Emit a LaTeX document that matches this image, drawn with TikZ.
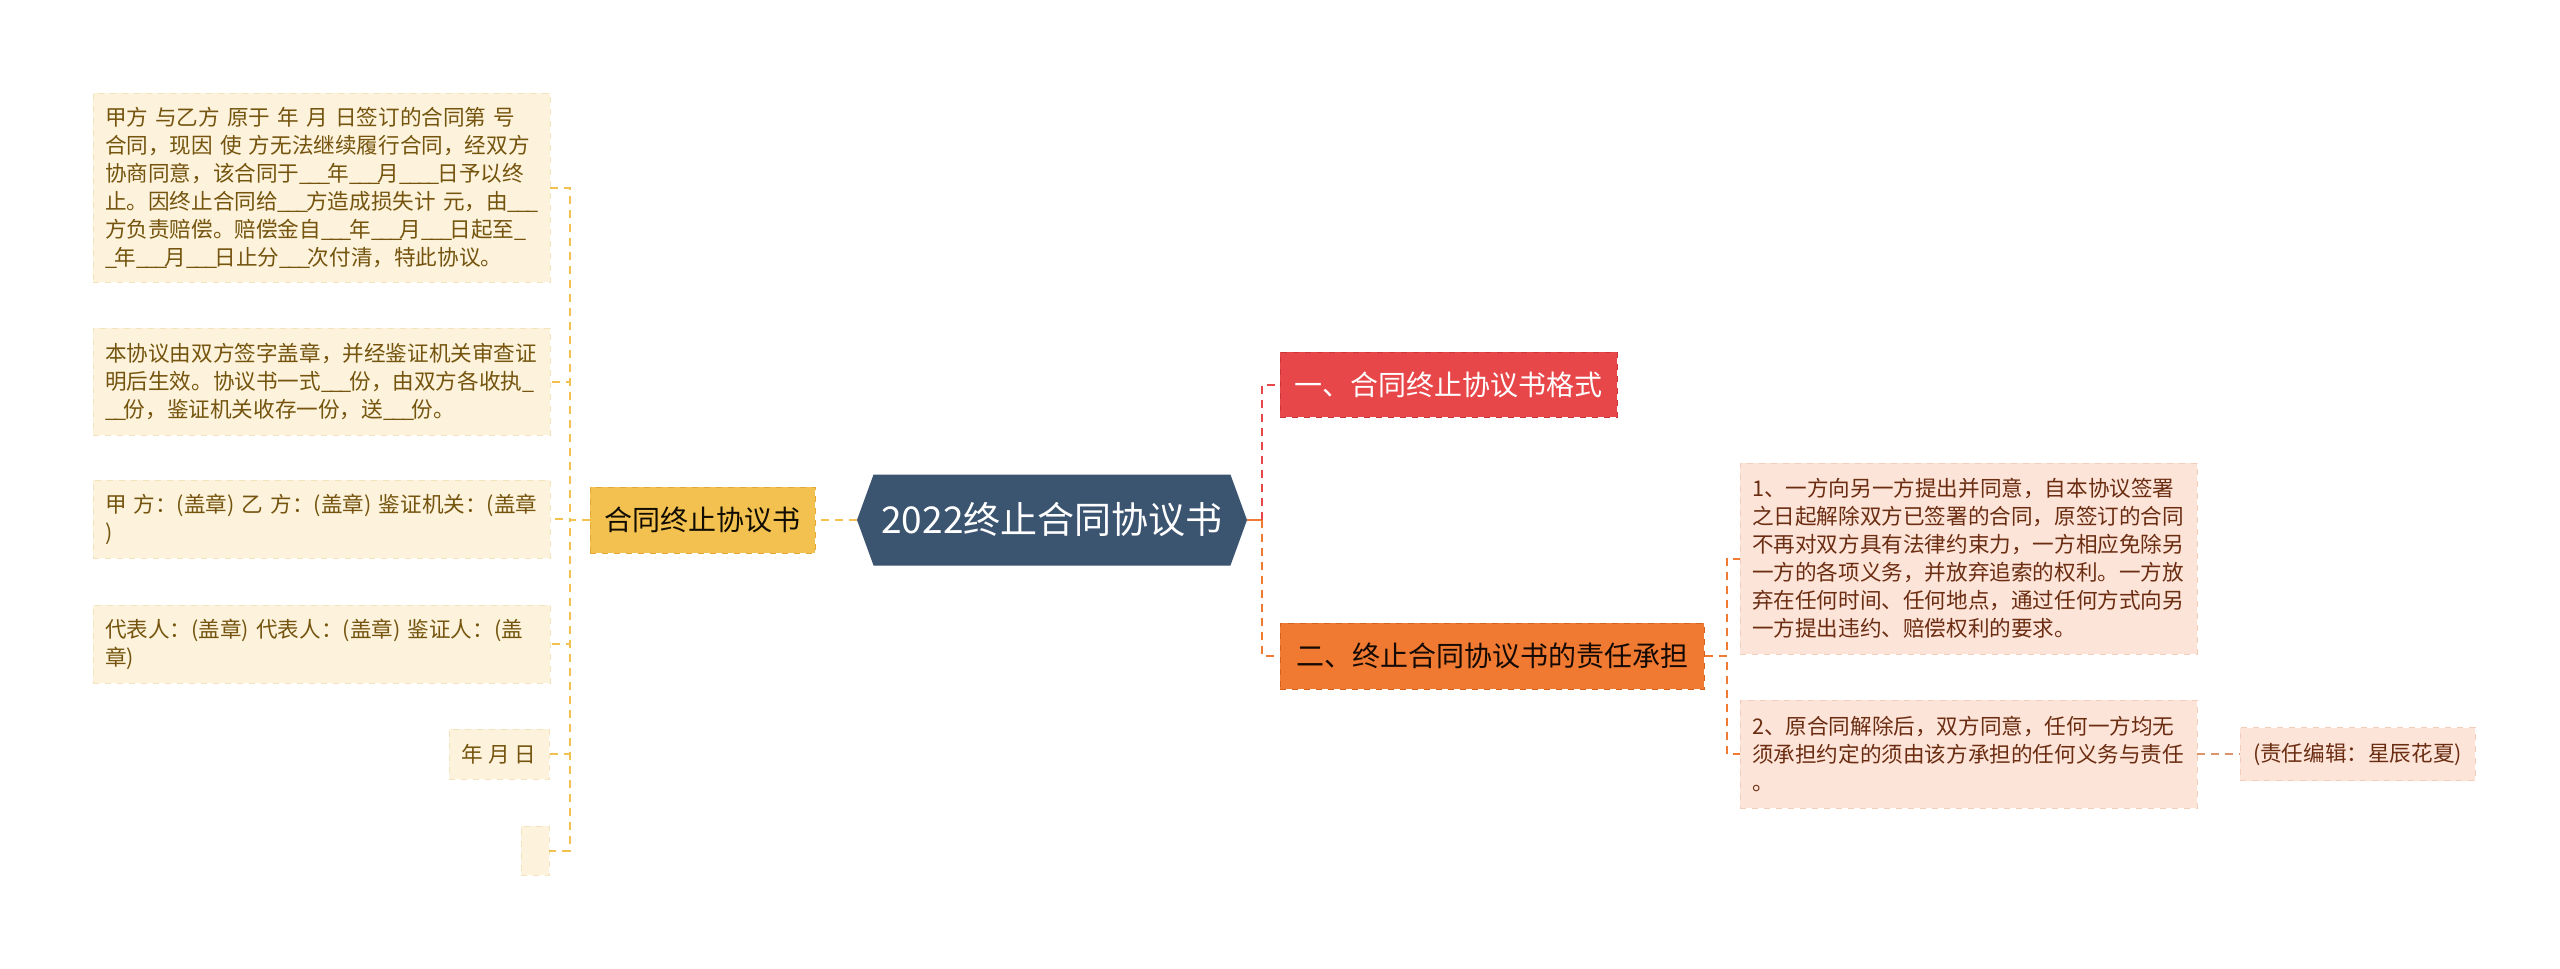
\documentclass[tikz,border=0pt]{standalone}
\usepackage{fontspec}
\newfontfamily\cjk{Noto Sans CJK SC}
\usetikzlibrary{shapes.symbols}
% narrower underscore for the blanks
\newcommand\us{\_\kern-0.12em}

\begin{document}
\begin{tikzpicture}[x=0.5pt,y=-0.5pt,
  mynode/.style={anchor=center, inner sep=0pt, font=\cjk},
  lleaf/.style={mynode, draw=cLb, dashed, line width=0.4pt, fill=cL, text=cLt,
    font=\cjk\fontsize{10.8}{14}\selectfont, align=left, text width=216.5pt, inner xsep=6pt},
  rleaf/.style={lleaf, draw=cRb, fill=cR, text=cRt},
  branch/.style={mynode, draw, dashed, line width=0.5pt, font=\cjk\fontsize{14}{16}\selectfont},
  ylink/.style={draw=cY, dashed, dash pattern=on 4pt off 3pt, line width=1pt},
  rlink/.style={ylink, draw=cRd},
  olink/.style={ylink, draw=cOr},
  plink/.style={ylink, draw=cPk}]

% mind map colours
\definecolor{cL}{HTML}{FDF3DC}  % left leaves
\definecolor{cLb}{HTML}{F3E2BC}
\definecolor{cLt}{HTML}{74540E}
\definecolor{cR}{HTML}{FDE4D8}  % right leaves
\definecolor{cRb}{HTML}{F3CDBA}
\definecolor{cRt}{HTML}{6B2D12}
\definecolor{cY}{HTML}{F2C14F}
\definecolor{cYb}{HTML}{E3A73A}
\definecolor{cRd}{HTML}{E8474A}
\definecolor{cRdb}{HTML}{C93538}
\definecolor{cOr}{HTML}{F07A31}
\definecolor{cOrb}{HTML}{D2611E}
\definecolor{cPk}{HTML}{DE946A}
\definecolor{cRoot}{HTML}{3B5470}

\fill[white] (0,0) rectangle (2560,969);
\useasboundingbox (0,0) rectangle (2560,969);

%% root
\node [mynode, signal, signal to=east and west, signal pointer angle=140,
  fill=cRoot, text=white, minimum width=195pt, minimum height=45.5pt,
  font=\cjk\fontsize{18.5}{20}\selectfont] at (1052,520) (root) {2022终止合同协议书};

%% left side
\node [branch, draw=cYb, fill=cY, text=black!85!cLt, minimum width=112.5pt, minimum height=33pt]
  at (702.5,520) (lhub) {合同终止协议书};
\draw [ylink] (root.west) -- (lhub.east);

\node [lleaf, minimum height=94.5pt] at (321.5,187.5) (l1) {甲方 与乙方 原于 年 月 日签订的合同第 号\\
合同，现因 使 方无法继续履行合同，经双方\\
协商同意，该合同于\us\us\us 年\us\us\us 月\us\us\us\us 日予以终\\
止。因终止合同给\us\us\us 方造成损失计~元，由\us\us\us\\
方负责赔偿。赔偿金自\us\us\us 年\us\us\us 月\us\us\us 日起至\us\\
\us 年\us\us\us 月\us\us\us 日止分\us\us\us 次付清，特此协议。};
\node [lleaf, minimum height=53.5pt] at (321.5,381.5) (l2) {本协议由双方签字盖章，并经鉴证机关审查证\\
明后生效。协议书一式\us\us\us 份，由双方各收执\us\\
\us\us 份，鉴证机关收存一份，送\us\us\us 份。};
\node [lleaf, minimum height=39pt] at (321.5,519) (l3) {甲 方：(盖章) 乙 方：(盖章) 鉴证机关：(盖章\\
)};
\node [lleaf, minimum height=39pt] at (321.5,644) (l4) {代表人：(盖章) 代表人：(盖章) 鉴证人：(盖\\
章)};
\node [lleaf, text width=, align=center, minimum width=50pt, minimum height=25pt] at (499,754) (l5) {年 月 日};
\node [lleaf, text width=, minimum width=14pt, minimum height=24.5pt] at (535,850.5) (l6) {};

\foreach \leaf in {l1,l2,l3,l4,l5,l6}
  \draw [ylink] (lhub.west) -- ++(-20,0) |- (\leaf.east);

%% right side
\node [branch, draw=cRdb, fill=cRd, text=white, minimum width=168.5pt, minimum height=32.5pt]
  at (1448.5,384.5) (sec1) {一、合同终止协议书格式};
\node [branch, draw=cOrb, fill=cOr, text=black!80!cRt, minimum width=212pt, minimum height=33pt]
  at (1492,656) (sec2) {二、终止合同协议书的责任承担};
\draw [draw=cOr, line width=1pt] (root.east) -- ++(15,0);
\draw [rlink] (root.east) ++(15,0) |- (sec1.west);
\draw [olink] (root.east) ++(15,0) |- (sec2.west);

\node [rleaf, minimum height=95.5pt] at (1968.5,558.5) (r1) {1、一方向另一方提出并同意，自本协议签署\\
之日起解除双方已签署的合同，原签订的合同\\
不再对双方具有法律约束力，一方相应免除另\\
一方的各项义务，并放弃追索的权利。一方放\\
弃在任何时间、任何地点，通过任何方式向另\\
一方提出违约、赔偿权利的要求。};
\node [rleaf, minimum height=54pt] at (1968.5,754) (r2) {2、原合同解除后，双方同意，任何一方均无\\
须承担约定的须由该方承担的任何义务与责任\\
。};
\foreach \leaf in {r1,r2}
  \draw [olink] (sec2.east) -- ++(22,0) |- (\leaf.west);

\node [rleaf, text width=, align=center, minimum width=117.5pt, minimum height=26.5pt]
  at (2357.5,754) (ed) {(责任编辑：星辰花夏)};
\draw [plink] (r2.east) -- (ed.west);
\end{tikzpicture}
\end{document}
